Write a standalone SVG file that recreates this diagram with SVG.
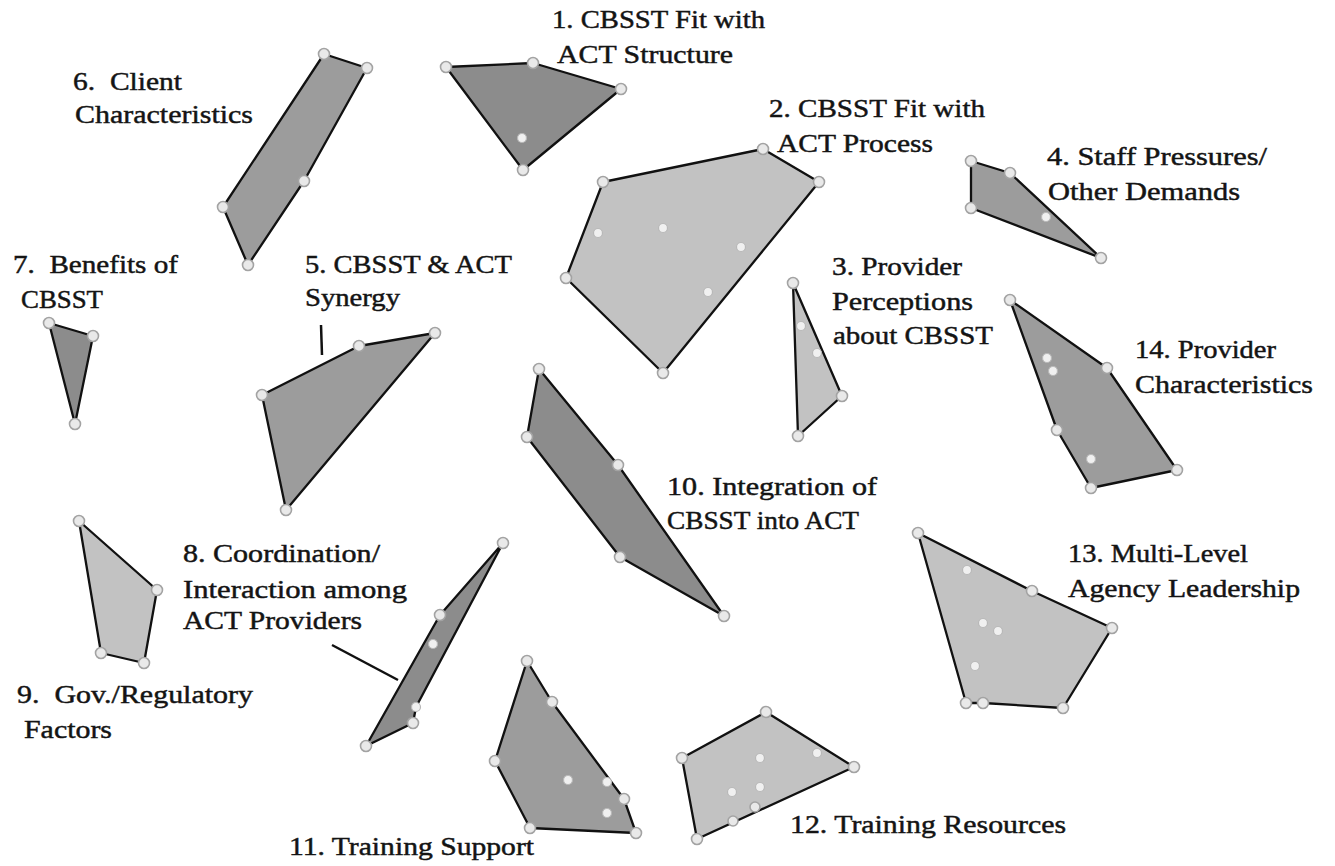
<svg xmlns="http://www.w3.org/2000/svg" width="1335" height="866" viewBox="0 0 1335 866">
<style>
.poly{stroke:#111;stroke-width:2.3;stroke-linejoin:round}
.dark{fill:#8c8c8c}
.mid{fill:#9c9c9c}
.light{fill:#c2c2c2}
.v{fill:#e9e9e9;stroke:#a3a3a3;stroke-width:1.6}
.p{fill:#f0f0f0;stroke:#b8b8b8;stroke-width:1.2}
.t{font-family:"Liberation Serif","Times New Roman",serif;font-size:25px;fill:#141414;stroke:#141414;stroke-width:0.45;white-space:pre}
.lead{stroke:#111;stroke-width:2.5;fill:none}
</style>
<rect width="1335" height="866" fill="#ffffff"/>

<g id="connectors">
<line class="lead" x1="321" y1="325" x2="322" y2="355"/>
<line class="lead" x1="332" y1="645" x2="398" y2="680"/>
</g>

<g id="cluster1">
<polygon class="poly dark" points="446,67 533,63 621,89 523,170"/>
<circle class="v" cx="446" cy="67" r="5.5"/><circle class="v" cx="533" cy="63" r="5.5"/><circle class="v" cx="621" cy="89" r="5.5"/><circle class="v" cx="523" cy="170" r="5.5"/>
<circle class="p" cx="522" cy="138" r="4.5"/>
<text class="t" x="552" y="28" textLength="213" lengthAdjust="spacingAndGlyphs">1. CBSST Fit with</text>
<text class="t" x="557" y="63" textLength="176" lengthAdjust="spacingAndGlyphs">ACT Structure</text>
</g>

<g id="cluster2">
<polygon class="poly light" points="603,182 763,149 819,182 663,373 566,278"/>
<circle class="v" cx="603" cy="182" r="5.5"/><circle class="v" cx="763" cy="149" r="5.5"/><circle class="v" cx="819" cy="182" r="5.5"/><circle class="v" cx="663" cy="373" r="5.5"/><circle class="v" cx="566" cy="278" r="5.5"/>
<circle class="p" cx="598" cy="233" r="4.5"/><circle class="p" cx="663" cy="228" r="4.5"/><circle class="p" cx="741" cy="247" r="4.5"/><circle class="p" cx="708" cy="292" r="4.5"/>
<text class="t" x="769" y="117" textLength="216" lengthAdjust="spacingAndGlyphs">2. CBSST Fit with</text>
<text class="t" x="777" y="152" textLength="156" lengthAdjust="spacingAndGlyphs">ACT Process</text>
</g>

<g id="cluster3">
<polygon class="poly light" points="793,283 842,396 798,436"/>
<circle class="v" cx="793" cy="283" r="5.5"/><circle class="v" cx="842" cy="396" r="5.5"/><circle class="v" cx="798" cy="436" r="5.5"/>
<circle class="p" cx="801" cy="326" r="4.5"/><circle class="p" cx="817" cy="353" r="4.5"/>
<text class="t" x="832" y="275" textLength="130" lengthAdjust="spacingAndGlyphs">3. Provider</text>
<text class="t" x="832" y="310" textLength="141" lengthAdjust="spacingAndGlyphs">Perceptions</text>
<text class="t" x="833" y="344" textLength="160" lengthAdjust="spacingAndGlyphs">about CBSST</text>
</g>

<g id="cluster4">
<polygon class="poly mid" points="971,161 1010,173 1101,258 971,208"/>
<circle class="v" cx="971" cy="161" r="5.5"/><circle class="v" cx="1010" cy="173" r="5.5"/><circle class="v" cx="1101" cy="258" r="5.5"/><circle class="v" cx="971" cy="208" r="5.5"/>
<circle class="p" cx="1046" cy="217" r="4.5"/>
<text class="t" x="1047" y="165" textLength="220" lengthAdjust="spacingAndGlyphs">4. Staff Pressures/</text>
<text class="t" x="1048" y="200" textLength="192" lengthAdjust="spacingAndGlyphs">Other Demands</text>
</g>

<g id="cluster5">
<polygon class="poly mid" points="262,395 359,346 435,333 286,510"/>
<circle class="v" cx="262" cy="395" r="5.5"/><circle class="v" cx="359" cy="346" r="5.5"/><circle class="v" cx="435" cy="333" r="5.5"/><circle class="v" cx="286" cy="510" r="5.5"/>
<text class="t" x="305" y="273" textLength="207" lengthAdjust="spacingAndGlyphs">5. CBSST &amp; ACT</text>
<text class="t" x="305" y="306" textLength="95" lengthAdjust="spacingAndGlyphs">Synergy</text>
</g>

<g id="cluster6">
<polygon class="poly mid" points="324,54 367,68 304,181 248,265 223,207"/>
<circle class="v" cx="324" cy="54" r="5.5"/><circle class="v" cx="367" cy="68" r="5.5"/><circle class="v" cx="304" cy="181" r="5.5"/><circle class="v" cx="248" cy="265" r="5.5"/><circle class="v" cx="223" cy="207" r="5.5"/>
<text class="t" x="73" y="90" textLength="109" lengthAdjust="spacingAndGlyphs">6.  Client</text>
<text class="t" x="75" y="123" textLength="178" lengthAdjust="spacingAndGlyphs">Characteristics</text>
</g>

<g id="cluster7">
<polygon class="poly dark" points="49,323 93,336 75,424"/>
<circle class="v" cx="49" cy="323" r="5.5"/><circle class="v" cx="93" cy="336" r="5.5"/><circle class="v" cx="75" cy="424" r="5.5"/>
<text class="t" x="13" y="273" textLength="165" lengthAdjust="spacingAndGlyphs">7.  Benefits of</text>
<text class="t" x="21" y="308" textLength="82" lengthAdjust="spacingAndGlyphs">CBSST</text>
</g>

<g id="cluster8">
<polygon class="poly dark" points="503,543 416,707 413,723 366,746 440,615"/>
<circle class="v" cx="503" cy="543" r="5.5"/><circle class="v" cx="440" cy="615" r="5.5"/><circle class="v" cx="413" cy="723" r="5.5"/><circle class="v" cx="366" cy="746" r="5.5"/>
<circle class="p" cx="433" cy="644" r="4.5"/><circle class="p" cx="416" cy="707" r="4.5"/>
<text class="t" x="183" y="562" textLength="197" lengthAdjust="spacingAndGlyphs">8. Coordination/</text>
<text class="t" x="183" y="598" textLength="224" lengthAdjust="spacingAndGlyphs">Interaction among</text>
<text class="t" x="183" y="629" textLength="179" lengthAdjust="spacingAndGlyphs">ACT Providers</text>
</g>

<g id="cluster9">
<polygon class="poly light" points="79,521 157,590 144,663 101,653"/>
<circle class="v" cx="79" cy="521" r="5.5"/><circle class="v" cx="157" cy="590" r="5.5"/><circle class="v" cx="144" cy="663" r="5.5"/><circle class="v" cx="101" cy="653" r="5.5"/>
<text class="t" x="17" y="703" textLength="236" lengthAdjust="spacingAndGlyphs">9.  Gov./Regulatory</text>
<text class="t" x="24" y="738" textLength="88" lengthAdjust="spacingAndGlyphs">Factors</text>
</g>

<g id="cluster10">
<polygon class="poly dark" points="539,369 618,465 724,616 620,557 527,437"/>
<circle class="v" cx="539" cy="369" r="5.5"/><circle class="v" cx="618" cy="465" r="5.5"/><circle class="v" cx="724" cy="616" r="5.5"/><circle class="v" cx="620" cy="557" r="5.5"/><circle class="v" cx="527" cy="437" r="5.5"/>
<text class="t" x="667" y="495" textLength="210" lengthAdjust="spacingAndGlyphs">10. Integration of</text>
<text class="t" x="667" y="529" textLength="192" lengthAdjust="spacingAndGlyphs">CBSST into ACT</text>
</g>

<g id="cluster11">
<polygon class="poly mid" points="527,661 552,702 624,799 636,833 530,828 495,761"/>
<circle class="v" cx="527" cy="661" r="5.5"/><circle class="v" cx="552" cy="702" r="5.5"/><circle class="v" cx="624" cy="799" r="5.5"/><circle class="v" cx="636" cy="833" r="5.5"/><circle class="v" cx="530" cy="828" r="5.5"/><circle class="v" cx="495" cy="761" r="5.5"/>
<circle class="p" cx="568" cy="780" r="4.5"/><circle class="p" cx="607" cy="782" r="4.5"/><circle class="p" cx="607" cy="813" r="4.5"/>
<text class="t" x="289" y="855" textLength="245" lengthAdjust="spacingAndGlyphs">11. Training Support</text>
</g>

<g id="cluster12">
<polygon class="poly light" points="766,712 854,767 697,839 682,758"/>
<circle class="v" cx="766" cy="712" r="5.5"/><circle class="v" cx="854" cy="767" r="5.5"/><circle class="v" cx="697" cy="839" r="5.5"/><circle class="v" cx="682" cy="758" r="5.5"/>
<circle class="v" cx="733" cy="821" r="5"/><circle class="v" cx="755" cy="807" r="5"/>
<circle class="p" cx="760" cy="758" r="4.5"/><circle class="p" cx="817" cy="753" r="4.5"/><circle class="p" cx="732" cy="792" r="4.5"/><circle class="p" cx="760" cy="787" r="4.5"/>
<text class="t" x="790" y="833" textLength="276" lengthAdjust="spacingAndGlyphs">12. Training Resources</text>
</g>

<g id="cluster13">
<polygon class="poly light" points="918,533 1032,591 1112,628 1063,708 983,703 966,703"/>
<circle class="v" cx="918" cy="533" r="5.5"/><circle class="v" cx="1032" cy="591" r="5.5"/><circle class="v" cx="1112" cy="628" r="5.5"/><circle class="v" cx="1063" cy="708" r="5.5"/><circle class="v" cx="983" cy="703" r="5.5"/><circle class="v" cx="966" cy="703" r="5.5"/>
<circle class="p" cx="967" cy="570" r="4.5"/><circle class="p" cx="983" cy="623" r="4.5"/><circle class="p" cx="998" cy="631" r="4.5"/><circle class="p" cx="975" cy="666" r="4.5"/>
<text class="t" x="1068" y="562" textLength="180" lengthAdjust="spacingAndGlyphs">13. Multi-Level</text>
<text class="t" x="1068" y="597" textLength="232" lengthAdjust="spacingAndGlyphs">Agency Leadership</text>
</g>

<g id="cluster14">
<polygon class="poly mid" points="1010,300 1107,368 1177,470 1091,488 1057,430"/>
<circle class="v" cx="1010" cy="300" r="5.5"/><circle class="v" cx="1107" cy="368" r="5.5"/><circle class="v" cx="1177" cy="470" r="5.5"/><circle class="v" cx="1091" cy="488" r="5.5"/><circle class="v" cx="1057" cy="430" r="5.5"/>
<circle class="p" cx="1047" cy="358" r="4.5"/><circle class="p" cx="1053" cy="371" r="4.5"/><circle class="p" cx="1091" cy="459" r="4.5"/>
<text class="t" x="1135" y="358" textLength="141" lengthAdjust="spacingAndGlyphs">14. Provider</text>
<text class="t" x="1135" y="393" textLength="178" lengthAdjust="spacingAndGlyphs">Characteristics</text>
</g>
</svg>
